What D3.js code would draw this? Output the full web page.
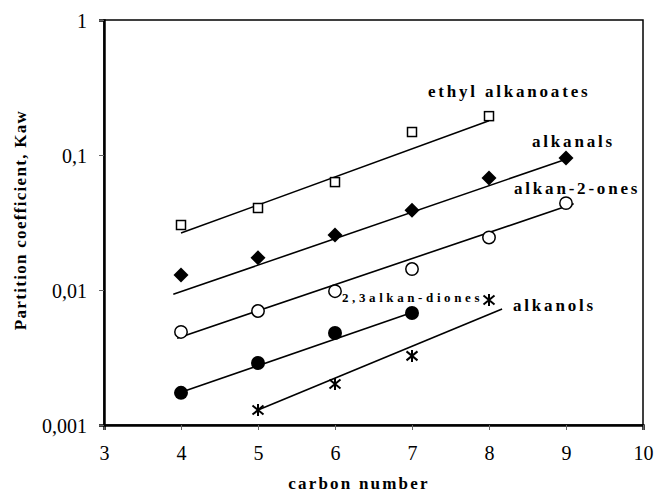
<!DOCTYPE html>
<html>
<head>
<meta charset="utf-8">
<script src="https://cdn.jsdelivr.net/npm/d3@7"></script>
<style>
  body { margin: 0; background: #fff; }
  text { font-family: "Liberation Serif", "Times New Roman", serif; fill: #000; }
  .axis-title { font-size: 17px; font-weight: bold; letter-spacing: 2.2px; }
  .axis-title.y { letter-spacing: 1.3px; }
  .series-label { font-size: 17px; font-weight: bold; letter-spacing: 2.8px; }
  .series-label.small { font-size: 13px; letter-spacing: 3.6px; }
</style>
</head>
<body>
<div id="chart"></div>
<script>

// tick labels
var xTicks = [3, 4, 5, 6, 7, 8, 9, 10];
var yTicks = [0.001, 0.01, 0.1, 1];
var yTickLabels = ["0,001", "0,01", "0,1", "1"];

// carbon numbers and measured Kaw values
var esterC = [4, 5, 6, 7, 8];
var esterK = [0.0303, 0.0405, 0.063, 0.148, 0.194];

var alkanalC = [4, 5, 6, 7, 8, 9];
var alkanalK = [0.0129, 0.0173, 0.0255, 0.039, 0.0676, 0.095];

var ketoneC = [4, 5, 6, 7, 8, 9];
var ketoneK = [0.00489, 0.00699, 0.0098, 0.0143, 0.0245, 0.044];

var dioneC = [4, 5, 6, 7];
var dioneK = [0.00173, 0.00288, 0.0048, 0.00676];

var alkanolC = [5, 6, 7, 8];
var alkanolK = [0.00129, 0.00201, 0.00325, 0.00843];

// fitted trend lines (end points)
var esterFitC = [4, 8],       esterFitK = [0.0264, 0.179];
var alkanalFitC = [3.9, 9],   alkanalFitK = [0.0093, 0.093];
var ketoneFitC = [3.95, 9.1], ketoneFitK = [0.0044, 0.0435];
var dioneFitC = [4, 7],       dioneFitK = [0.00175, 0.0068];
var alkanolFitC = [5, 8.17],  alkanolFitK = [0.00129, 0.00723];

var margin = {top: 20, right: 12, bottom: 75, left: 104};
var width = 655, height = 500;
var innerW = width - margin.left - margin.right;
var innerH = height - margin.top - margin.bottom;

var svg = d3.select("#chart")
    .append("svg")
    .attr("width", width)
    .attr("height", height);

var g = svg.append("g")
    .attr("transform", "translate(" + margin.left + "," + margin.top + ")");

var x = d3.scaleLinear().domain([3, 10]).range([0, innerW]);
var y = d3.scaleLog().domain([0.001, 1]).range([innerH, 0]);

// frame
g.append("rect")
    .attr("x", 0).attr("y", 0)
    .attr("width", innerW).attr("height", innerH)
    .attr("fill", "none")
    .attr("stroke", "#000")
    .attr("stroke-width", 1.5);

// x axis
var xAxis = g.append("g")
    .attr("transform", "translate(0," + innerH + ")")
    .call(d3.axisBottom(x).tickValues(xTicks).tickSize(5).tickFormat(d3.format("d")));
xAxis.select(".domain").attr("stroke-width", 2.5);
xAxis.selectAll(".tick line").attr("stroke", "#666");
xAxis.selectAll("text")
    .attr("dy", null)
    .attr("y", 35)
    .style("font-family", "Liberation Serif")
    .style("font-size", "20px");

// y axis
var yAxis = g.append("g")
    .call(d3.axisLeft(y).tickValues(yTicks).tickSize(5)
        .tickFormat(function(d, i) { return yTickLabels[i]; }));
yAxis.select(".domain").attr("stroke-width", 2.5);
yAxis.selectAll(".tick line").attr("stroke", "#666");
yAxis.selectAll("text")
    .attr("x", -17)
    .attr("dy", "0.35em")
    .style("font-family", "Liberation Serif")
    .style("font-size", "20px");

// axis titles
svg.append("text")
    .attr("class", "axis-title")
    .attr("x", 359)
    .attr("y", 489)
    .attr("text-anchor", "middle")
    .text("carbon number");

svg.append("text")
    .attr("class", "axis-title y")
    .attr("transform", "translate(26,220) rotate(-90)")
    .attr("text-anchor", "middle")
    .text("Partition coefficient, Kaw");

// trend lines
var line = d3.line()
    .x(function(d) { return x(d[0]); })
    .y(function(d) { return y(d[1]); });

var fits = [
    [esterFitC, esterFitK],
    [alkanalFitC, alkanalFitK],
    [ketoneFitC, ketoneFitK],
    [dioneFitC, dioneFitK],
    [alkanolFitC, alkanolFitK]
];

g.selectAll(".fit")
    .data(fits)
    .enter()
    .append("path")
    .attr("class", "fit")
    .attr("d", function(f) { return line(d3.zip(f[0], f[1])); })
    .attr("fill", "none")
    .attr("stroke", "#000")
    .attr("stroke-width", 1.6);

// markers
function pts(c, k) { return d3.zip(c, k); }

// squares
g.selectAll(".sq")
    .data(pts(esterC, esterK))
    .enter()
    .append("rect")
    .attr("x", function(d) { return x(d[0]) - 4.5; })
    .attr("y", function(d) { return y(d[1]) - 4.5; })
    .attr("width", 9).attr("height", 9)
    .attr("fill", "#fff")
    .attr("stroke", "#000")
    .attr("stroke-width", 1.5);

// diamonds
g.selectAll(".dm")
    .data(pts(alkanalC, alkanalK))
    .enter()
    .append("path")
    .attr("transform", function(d) { return "translate(" + x(d[0]) + "," + y(d[1]) + ")"; })
    .attr("d", "M0,-7.5L7.5,0L0,7.5L-7.5,0Z")
    .attr("fill", "#000");

// open circles
g.selectAll(".oc")
    .data(pts(ketoneC, ketoneK))
    .enter()
    .append("circle")
    .attr("cx", function(d) { return x(d[0]); })
    .attr("cy", function(d) { return y(d[1]); })
    .attr("r", 6.2)
    .attr("fill", "#fff")
    .attr("stroke", "#000")
    .attr("stroke-width", 1.5);

// filled circles
g.selectAll(".fc")
    .data(pts(dioneC, dioneK))
    .enter()
    .append("circle")
    .attr("cx", function(d) { return x(d[0]); })
    .attr("cy", function(d) { return y(d[1]); })
    .attr("r", 7)
    .attr("fill", "#000");

// asterisks
g.selectAll(".ast")
    .data(pts(alkanolC, alkanolK))
    .enter()
    .append("path")
    .attr("transform", function(d) { return "translate(" + x(d[0]) + "," + y(d[1]) + ")"; })
    .attr("d", "M0,-6L0,6M-5.5,-4.5L5.5,4.5M-5.5,4.5L5.5,-4.5")
    .attr("stroke", "#000")
    .attr("stroke-width", 2)
    .attr("fill", "none");

// series labels
var labels = [
    {text: "ethyl alkanoates", x: 428, y: 97, cls: "series-label"},
    {text: "alkanals", x: 532, y: 147, cls: "series-label"},
    {text: "alkan-2-ones", x: 514, y: 194, cls: "series-label"},
    {text: "2,3alkan-diones", x: 342, y: 302, cls: "series-label small"},
    {text: "alkanols", x: 513, y: 311, cls: "series-label"}
];

svg.selectAll(".series-label")
    .data(labels)
    .enter()
    .append("text")
    .attr("class", function(d) { return d.cls; })
    .attr("x", function(d) { return d.x; })
    .attr("y", function(d) { return d.y; })
    .text(function(d) { return d.text; });

</script>
</body>
</html>
